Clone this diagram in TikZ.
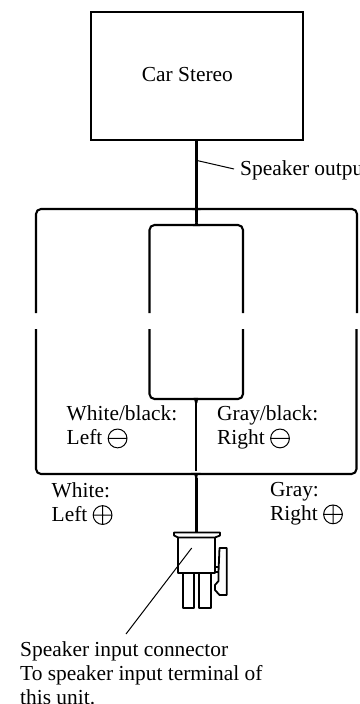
\documentclass[tikz,border=0pt]{standalone}
\usepackage{fontspec}
\setmainfont{Liberation Serif}
\newcommand{\cplus}{\tikz[baseline=-6pt,x=1pt,y=1pt]{\draw[line width=1pt] (0,0) circle (9.4) (-9.4,0)--(9.4,0) (0,-9.4)--(0,9.4);}}
\newcommand{\cminus}{\tikz[baseline=-6pt,x=1pt,y=1pt]{\draw[line width=1pt] (0,0) circle (9.4) (-9.4,0)--(9.4,0);}}
\tikzset{
 wire/.style={line width=2.1pt,rounded corners=5pt},
 stem/.style={line width=2.4pt},
 trunk/.style={line width=2.8pt},
 thin box/.style={draw,line width=1.7pt},
 leader/.style={line width=1pt},
 lab/.style={font=\fontsize{21.4}{24}\selectfont,align=left,anchor=north west,inner sep=0pt},
 single/.style={font=\fontsize{21.4}{24}\selectfont,anchor=base west,inner sep=0pt},
 conn/.style={line width=1.8pt,line join=round,fill=white}
}
\begin{document}
\begin{tikzpicture}[x=1pt,y=-1pt]
\useasboundingbox (0,0) rectangle (359,704);
\node[thin box,minimum width=212pt,minimum height=128pt,anchor=north west,inner sep=0pt] (stereo) at (90,11) {};
\node[single] (carlabel) at (141.7,81) {Car Stereo};
\coordinate (j1) at (196.5,207);
\coordinate (j2) at (196.5,222);
\coordinate (c1) at (196.2,403);
\coordinate (j3) at (196.2,471);
\coordinate (j4) at (196.2,478);
\coordinate (top) at (196.2,533);
\draw[trunk] (stereo.south -| j1) -- (j1);
\draw[wire] (36,313) -- (36,209) -- (192,209) .. controls (195,209) and (196.5,208) .. (j1);
\draw[wire] (357,313) -- (357,209) -- (201,209) .. controls (198,209) and (196.5,208) .. (j1);
\draw[stem] (j1) -- (j2);
\draw[wire] (149.5,313) -- (149.5,225) -- (192,225) .. controls (195,225) and (196.5,224) .. (j2);
\draw[wire] (243,313) -- (243,225) -- (201,225) .. controls (198,225) and (196.5,224) .. (j2);
\draw[wire] (36,329) -- (36,474) -- (192,474) .. controls (194.5,474) and (196.2,475) .. (j4);
\draw[wire] (356.5,329) -- (356.5,474) -- (200,474) .. controls (197.5,474) and (196.2,475) .. (j4);
\draw[wire] (149.5,329) -- (149.5,399) -- (191,399) .. controls (194,399) and (196.2,400) .. (c1);
\draw[wire] (243,329) -- (243,399) -- (201,399) .. controls (198,399) and (196.2,400) .. (c1);
\draw[stem] (c1) -- (j3);
\draw[trunk] (j4) -- (top);
\node[single] (out) at (240,175.7) {Speaker output};
\coordinate (tap) at (197,160.5);
\coordinate (outend) at (234,169);
\draw[leader] (tap) -- (outend);
\node[lab] (wb) at (66.5,405.4) {White/black:\\Left \cminus};
\node[lab] (gb) at (217,405.4) {Gray/black:\\Right \cminus};
\node[lab] (w) at (51.5,482) {White:\\Left \cplus};
\node[lab] (g) at (270,482) {Gray:\\Right \cplus};
% connector
\draw[conn] (219.5,548) -- (226.7,548) -- (226.7,595) -- (219.5,595) -- (215,590) -- (215,585) -- (218.5,581) -- (218.5,572) -- cycle;
\draw[line width=1.4pt] (215,567) -- (219,567) (215,572) -- (219,572);
\draw[conn] (182.7,573) rectangle (194.3,608.3);
\draw[conn] (199.3,573) rectangle (210.7,608.3);
\draw[conn] (178.3,537) -- (178.3,573) -- (215,573) -- (215,537);
\draw[conn] (174,532.5) -- (220,532.5) -- (220,535.5) -- (215,537.5) -- (178.3,537.5) -- (174,535.5) -- cycle;
\coordinate (lt) at (191.7,548);
\coordinate (lb) at (126,634);
\draw[leader] (lt) -- (lb);
\node[lab] (sp) at (20,641.4) {Speaker input connector\\To speaker input terminal of\\this unit.};
\end{tikzpicture}
\end{document}
